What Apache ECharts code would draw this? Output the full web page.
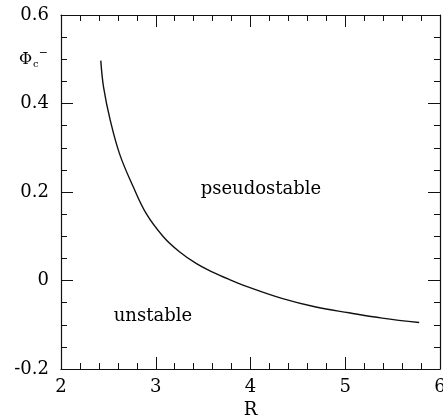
<!DOCTYPE html>
<html>
<head>
<meta charset="utf-8">
<script src="https://cdn.jsdelivr.net/npm/echarts@6/dist/echarts.min.js"></script>
<style>
  html, body { margin: 0; padding: 0; background: #fff; }
  #chart { width: 443px; height: 415px; }
</style>
</head>
<body>
<div id="chart"></div>
<script>
// Critical boundary Phi_c^- versus R
const rValues   = [2.42, 2.45, 2.52, 2.62, 2.76, 2.90, 3.08, 3.25, 3.43, 3.60, 3.78, 3.98, 4.34, 4.69, 5.04, 5.39, 5.78];
const phiValues = [0.497, 0.436, 0.362, 0.285, 0.213, 0.151, 0.099, 0.065, 0.038, 0.019, 0.002, -0.015, -0.041, -0.060, -0.073, -0.085, -0.095];

const xTicks = [2, 3, 4, 5, 6];
const yTicks = [-0.2, 0, 0.2, 0.4, 0.6];

const regionLabels = [
  { text: 'pseudostable', r: 4.11, phi: 0.205 },
  { text: 'unstable',     r: 2.97, phi: -0.081 }
];

const serif = 'DejaVu Serif';
const ink = '#000';
const fontSize = 18;

const chart = echarts.init(document.getElementById('chart'), null, { renderer: 'canvas' });

function fmtY(v) {
  const hit = yTicks.find(t => Math.abs(t - v) < 1e-9);
  if (hit === undefined) return '';
  if (Math.abs(hit) < 1e-9) return '0';
  return (hit < 0 ? '-' : '') + Math.abs(hit).toFixed(1);
}

const tickCommon = {
  axisLine: { show: true, onZero: false, lineStyle: { color: '#111', width: 1.2 } },
  axisTick: { show: true, inside: true, length: 12, lineStyle: { color: '#111', width: 1 } },
  splitLine: { show: false }
};
const xMinor = { minorTick: { show: true, splitNumber: 5, length: 6, lineStyle: { color: '#111', width: 1 } } };
const yMinor = { minorTick: { show: true, splitNumber: 4, length: 6, lineStyle: { color: '#111', width: 1 } } };

chart.setOption({
  animation: false,
  backgroundColor: '#fff',
  grid: { left: 61, right: 3, top: 15, bottom: 46, containLabel: false, outerBoundsMode: 'none' },
  xAxis: [
    Object.assign({
      type: 'value', position: 'bottom',
      min: xTicks[0], max: xTicks[xTicks.length - 1], interval: 1,
      name: 'R', nameLocation: 'middle', nameGap: 29,
      nameTextStyle: { fontFamily: serif, fontSize: fontSize, color: ink },
      axisLabel: { show: true, margin: 9, fontFamily: serif, fontSize: fontSize, color: ink,
                   formatter: v => String(v) }
    }, tickCommon, xMinor),
    Object.assign({
      type: 'value', position: 'top',
      min: xTicks[0], max: xTicks[xTicks.length - 1], interval: 1,
      axisLabel: { show: false }
    }, tickCommon, xMinor)
  ],
  yAxis: [
    Object.assign({
      type: 'value', position: 'left',
      min: yTicks[0], max: yTicks[yTicks.length - 1], interval: 0.2,
      axisLabel: { show: true, margin: 12, fontFamily: serif, fontSize: fontSize, color: ink, formatter: fmtY }
    }, tickCommon, yMinor),
    Object.assign({
      type: 'value', position: 'right',
      min: yTicks[0], max: yTicks[yTicks.length - 1], interval: 0.2,
      axisLabel: { show: false }
    }, tickCommon, yMinor)
  ],
  series: [
    {
      type: 'line',
      xAxisIndex: 0, yAxisIndex: 0,
      data: rValues.map((r, i) => [r, phiValues[i]]),
      smooth: 0.4,
      showSymbol: false,
      lineStyle: { color: '#111', width: 1.4 },
      silent: true
    },
    {
      type: 'scatter',
      xAxisIndex: 0, yAxisIndex: 0,
      data: regionLabels.map(d => [d.r, d.phi]),
      symbolSize: 0,
      itemStyle: { color: '#000', opacity: 1 },
      silent: true,
      label: {
        show: true, position: 'inside',
        fontFamily: serif, fontSize: fontSize, color: '#000', opacity: 1,
        textBorderWidth: 0, textBorderColor: 'transparent',
        formatter: p => regionLabels[p.dataIndex].text
      }
    }
  ],
  graphic: [
    {
      type: 'text', left: 19, top: 48,
      style: {
        text: '{phi|Φ}{sub|c}{sup|−}',
        rich: {
          phi: { fontFamily: serif, fontSize: 16, fill: ink, verticalAlign: 'middle' },
          sub: { fontFamily: serif, fontSize: 10, fill: ink, padding: [10, 0, 0, 1] },
          sup: { fontFamily: serif, fontSize: 11, fill: ink, padding: [0, 0, 12, 0] }
        }
      }
    }
  ]
});
</script>
</body>
</html>
